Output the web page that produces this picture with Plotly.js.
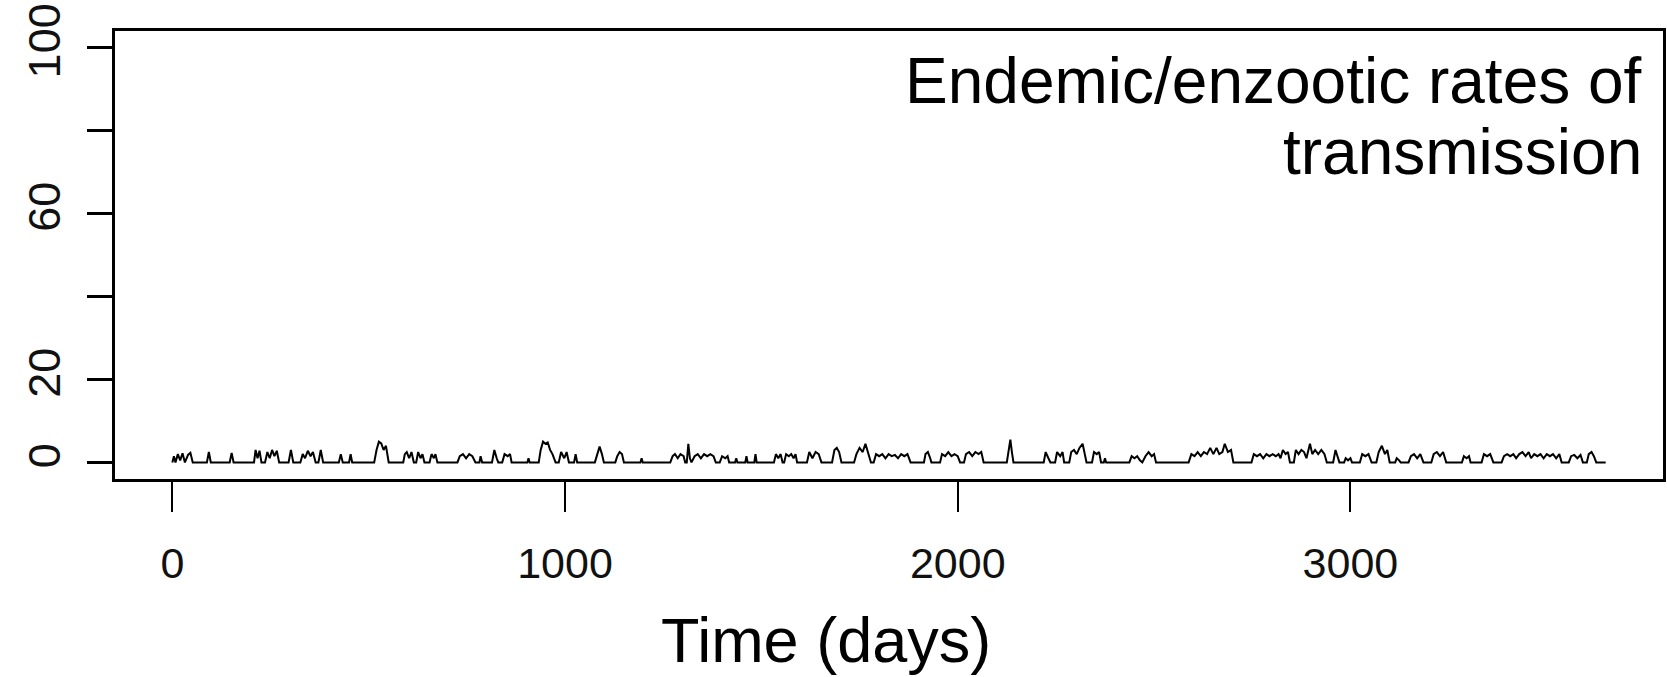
<!DOCTYPE html>
<html>
<head>
<meta charset="utf-8">
<script src="https://cdn.plot.ly/plotly-3.0.1.min.js"></script>
<style>html,body{margin:0;padding:0;background:#fff;}#chart{width:1667px;height:677px;}</style>
</head>
<body>
<div id="chart"></div>
<script>
// Daily transmission values, as day / value pairs
const days = [
  0,4,8,14,20,26,32,40,46,52,
  88,93,98, 146,151,156,
  208,212,217,222,227,
  236,242,248,254,260,266,272,
  296,302,308,
  326,332,338,345,352,358,365,
  372,378,384, 424,429,434, 450,454,458,
  514,520,526,532,538,544,551,
  588,592,597,603,609,615,
  621,626,632,637,642,
  655,660,666,670,675,
  726,732,740,748,756,764,772,
  782,785,789,
  814,820,826,830,
  840,846,854,860,864,
  904,907,910,
  933,938,944,950,956,962,968,976,
  984,990,998,1004,1010,
  1023,1027,1031,
  1076,1082,1088,1094,1099,
  1128,1133,1139,1145,1150,
  1192,1195,1198,
  1268,1274,1280,1287,1294,1302,1306,
  1310,1314,1318,
  1322,1330,1338,1346,1354,1362,1370,1378,1384,
  1394,1400,1408,1414,1418,
  1433,1436,1439, 1459,1462,1465, 1482,1485,1488,
  1532,1537,1543,1549,1554,
  1558,1563,1570,1576,1582,1587,1591,
  1616,1622,1630,1638,1646,1653,
  1680,1686,1692,1698,1704,
  1736,1742,1750,1758,1765,1772,1779,
  1786,1792,1800,1808,1816,1824,1832,1840,1848,1856,1864,1872,1880,
  1914,1918,1924,1930,1933,
  1955,1960,1968,1976,1984,1992,2000,2006,
  2016,2021,2029,2037,2045,2053,2060,2066,
  2125,2130,2134,2138,2142,
  2219,2224,2231,2236,
  2248,2253,2261,2267,2271,
  2284,2289,2296,2303,2310,2318,2324,2328,
  2342,2347,2354,2360,2365,
  2372,2375,2378,
  2437,2443,2450,2457,2464,2470,2478,2486,2494,2500,2505,
  2588,2595,2603,2611,2619,2627,2635,2643,2651,2659,2666,2674,2680,2688,2696,2702,
  2748,2754,2762,2770,2778,2786,2794,2802,2810,2817,2822,2828,2835,2841,2846,
  2856,2861,2868,2875,2882,2888,2897,2903,2910,2918,2926,2934,2940,
  2956,2962,2968,2972, 2984,2988,2994,3000,3004,
  3024,3030,3038,3046,3054,
  3066,3072,3080,3088,3094,3100,
  3114,3118,3124,3128,
  3148,3154,3162,3170,3178,3186,
  3206,3212,3220,3228,3236,3244,
  3284,3289,3296,3302,3306,
  3334,3340,3348,3356,3364,
  3385,3391,3399,3407,3415,3422,3430,3438,3446,3454,3460,3468,3476,3484,3492,3500,3508,3516,3524,3532,3538,
  3556,3562,3570,3578,3586,3592,
  3602,3607,3614,3620,3626,3650
];
const cases = [
  0,1.5,0,2,0.5,2.2,0,1.8,2.3,0,
  0,2.5,0, 0,2.3,0,
  0,3,1,2.8,0,
  0,2.5,1,3,1.5,2.8,0,
  0,3,0,
  0,2,1,2.8,1.5,2.5,0,
  0,3,0, 0,2,0, 0,2,0,
  0,3,5,4.6,3,4,0,
  0,2,2.5,1,2.5,0,
  0,2.5,1,2,0,
  0,2,1,2,0,
  0,1.5,2,1,2,1.5,0,
  0,1.5,0,
  0,3,1,0,
  0,2,1.5,2,0,
  0,1,0,
  0,3,5,4.5,4.8,3,2,0,
  0,2.5,1,2.5,0,
  0,2,0,
  0,2,3.8,2,0,
  0,1.5,2.5,2,0,
  0,1,0,
  0,1.5,2,1,2,1.5,0,
  0,4.5,1,
  0,1.5,2,1,2,1.5,2,1.5,0,
  0,1.5,1,1.5,0,
  0,1,0, 0,1.5,0, 0,2,0,
  0,2,1,2,0,
  0,2,1.5,2,1,2,0,
  0,2.5,1,2.5,2,0,
  0,3,3.5,2.5,0,
  0,2,3.5,2.5,4.5,2.5,0,
  0,2,1.5,2,1,2,1.5,1.8,1,2,1.5,2,0,
  0,2,2.5,1,0,
  0,2,1.5,2.5,1.5,2,1.5,0,
  0,2,2.5,1.5,2.5,2,2.5,0,
  0,3,5.5,2.5,0,
  0,2.5,1,0,
  0,2.5,1.5,2.5,0,
  0,2.5,3,2,3.5,4.5,1.5,0,
  0,2.5,2,2.5,0,
  0,1,0,
  0,1.5,1,1.5,0.5,0,1.5,2.5,1.5,2,0,
  0,2,1.5,2.5,1.5,2.5,2,3.5,2,3.5,2,2.5,4.5,2.5,3,0,
  0,2,1.5,2,1,2,1.5,2,1.5,2,1,3,2,2.5,0,
  0,3,2,3,2.5,1,4.5,2,3,2,3,2,0,
  0,3,1,0, 0,1,0.5,1,0,
  0,2,1.5,2,0,
  0,2.5,4,2,3,0,
  0,1,0.5,0,
  0,1.5,2,1,2,0,
  0,2,2.5,1.5,2.5,0,
  0,1.5,1,1.5,0,
  0,2,1.5,2,0,
  0,1.5,2,1.5,2,1,2,2.5,1.5,2.5,1,2,1.5,2,1,2,1.5,2,1,2,0,
  0,1.5,1.8,1,1.8,0,
  0,2,2.5,1.5,0,0
];
const xTickVals = [0, 1000, 2000, 3000];
const xTickText = ['0', '1000', '2000', '3000'];
const yTickVals = [0, 20, 40, 60, 80, 100];
const yTickText = ['0', '20', '', '60', '', '100'];
const titleLine1 = 'Endemic/enzootic rates of';
const titleLine2 = 'transmission';
const xTitle = 'Time (days)';

const FONT = '"Liberation Sans", Arial, Helvetica, sans-serif';

const trace = {
  x: days, y: cases, type: 'scatter', mode: 'lines',
  line: {color: '#000', width: 2},
  hoverinfo: 'skip'
};

const layout = {
  width: 1667, height: 677,
  margin: {l: 115, r: 4, t: 31, b: 198, pad: 0},
  paper_bgcolor: '#fff', plot_bgcolor: '#fff',
  showlegend: false,
  font: {family: FONT, color: '#000'},
  xaxis: {
    range: [-146, 3796], fixedrange: true,
    tickvals: xTickVals, ticktext: xTickText,
    ticks: 'outside', ticklen: 30, tickwidth: 2, tickcolor: '#000',
    tickfont: {size: 43, family: FONT, color: '#111'},
    ticklabelstandoff: 14,
    showline: true, linewidth: 3, linecolor: '#000', mirror: true,
    showgrid: false, zeroline: false
  },
  yaxis: {
    range: [-4, 104], fixedrange: true,
    tickvals: yTickVals, ticktext: yTickText,
    ticks: 'outside', ticklen: 25, tickwidth: 3, tickcolor: '#000',
    tickangle: -90,
    tickfont: {size: 45, family: FONT, color: '#111'},
    ticklabelstandoff: 9,
    showline: true, linewidth: 3, linecolor: '#000', mirror: true,
    showgrid: false, zeroline: false
  },
  annotations: [
    {text: titleLine1, xref: 'paper', yref: 'paper', x: 0.988, y: 0.888,
     xanchor: 'right', yanchor: 'middle', showarrow: false,
     font: {size: 64, family: FONT, color: '#000'}},
    {text: titleLine2, xref: 'paper', yref: 'paper', x: 0.988, y: 0.730,
     xanchor: 'right', yanchor: 'middle', showarrow: false,
     font: {size: 64, family: FONT, color: '#000'}},
    {text: xTitle, xref: 'paper', yref: 'paper', x: 0.459, y: -0.359,
     xanchor: 'center', yanchor: 'middle', showarrow: false,
     font: {size: 63, family: FONT, color: '#000'}}
  ]
};

Plotly.newPlot('chart', [trace], layout, {staticPlot: true, displayModeBar: false});
</script>
</body>
</html>
